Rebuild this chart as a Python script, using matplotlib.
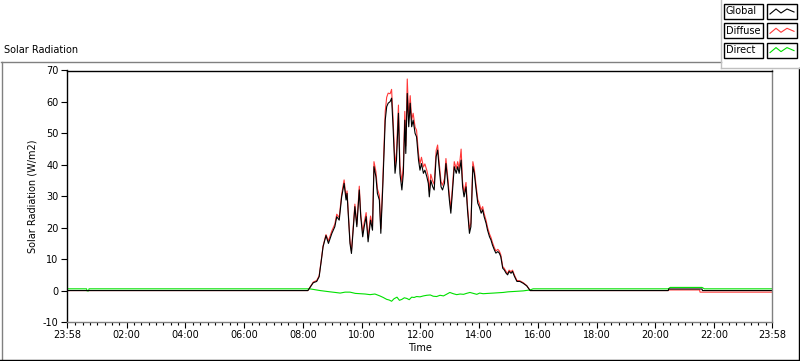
import numpy as np
import matplotlib.pyplot as plt
from matplotlib.lines import Line2D
from matplotlib.patches import Rectangle

plt.rcParams['font.family'] = ['DejaVu Sans']
plt.rcParams['axes.unicode_minus'] = False

# time in minutes from midnight (-2 = 23:58 the day before)
day_min = [490, 501, 508, 513, 518, 521, 527, 532, 539, 545, 549, 554, 559, 564, 568, 570,
           576, 579, 583, 586, 590, 595, 598, 602, 605, 609, 613, 618, 622, 625, 629, 632,
           636, 639, 643, 645, 648, 651, 654, 658, 661, 664, 668, 671, 675, 678, 682, 685,
           688, 690, 693, 696, 699, 702, 705, 709, 712, 716, 719, 722, 726, 729, 733, 736,
           738, 741, 745, 748, 752, 755, 758, 762, 765, 769, 772, 776, 779, 782, 786, 789,
           793, 796, 799, 803, 806, 809, 813, 816, 820, 823, 827, 830, 833, 837, 840, 844,
           847, 850, 854, 857, 861, 864, 867, 871, 874, 878, 881, 884, 888, 891, 895, 898,
           901, 905, 908, 912, 917, 923, 930, 937, 944]
global_day = [0, 2.5, 2.9, 4.4, 10.2, 13.9, 17.5, 15, 18.2, 20.3, 23.5, 22.4, 29.8, 34.1, 28.8, 30.9,
              15, 11.8, 20.3, 26.7, 20.3, 32, 23.5, 17.1, 20.3, 23.5, 15.5, 22.4, 19.2, 39.4, 36.2, 30.9,
              28.8, 18.2, 33, 41.5, 54.2, 58.5, 59.6, 60.1, 61.2, 52.1, 37.3, 41.5, 56.4, 37.3, 32, 37.3,
              54.2, 43.6, 62.7, 52.1, 59.6, 52.1, 54.2, 50, 48.9, 41.5, 38.3, 40.4, 37.3, 38.3, 36.2, 34.1,
              29.8, 35.1, 33, 32, 42.6, 44.7, 39.4, 33, 32, 34.1, 40.4, 34.1, 28.8, 24.6, 33, 39.4,
              37.3, 39.4, 37.3, 41.5, 33, 29.8, 33, 25.7, 18.2, 20.3, 39.4, 37.3, 33, 27.8, 26.7, 24.6,
              25.7, 23.5, 21.4, 19.2, 17.1, 16.1, 14.5, 12.9, 11.9, 12.4, 11.9, 10.8, 7.1, 6.6, 5.5, 5,
              6.1, 5.5, 6.1, 4.5, 2.9, 2.9, 2.3, 1.5, 0]
diffuse_day = [0, 2.7, 3.2, 4.7, 10.5, 14.2, 17.8, 15.8, 19, 21.1, 24.3, 23.2, 30.6, 35.2, 29.6, 31.7,
               15.8, 12.6, 21.1, 27.5, 21.1, 33.2, 24.3, 18.4, 21.6, 24.8, 16.8, 23.7, 20.5, 41, 37.8, 32.4,
               30.3, 19.7, 35, 43.5, 57, 61.5, 62.8, 62.6, 64, 54.6, 39.8, 44, 59, 39.8, 34.5, 39.8,
               57, 46, 67.3, 55, 62, 54.3, 56.4, 52, 51, 43.5, 40.3, 42.4, 39.3, 40.3, 38.2, 36.1,
               31.6, 37, 34.8, 33.8, 44.5, 46.3, 41, 34.6, 33.5, 35.6, 42, 35.6, 30.3, 26, 34.5, 41,
               38.8, 41, 38.8, 45, 34.5, 31.2, 34.4, 27, 19.5, 21.5, 41, 38.6, 34.2, 29, 27.8, 25.6,
               26.7, 24.5, 22.3, 20.1, 18, 16.9, 15.3, 13.6, 12.6, 13.1, 12.6, 11.4, 7.6, 7.1, 6, 5.4,
               6.5, 6, 6.5, 4.9, 3.2, 3.1, 2.5, 1.6, 0]

global_eve_min = [1226, 1227, 1295, 1296, 1438]
global_eve = [0, 0.5, 0.5, 0, 0]
diffuse_eve_min = [1226, 1227, 1290, 1291, 1438]
diffuse_eve = [0, 0.2, 0.2, -0.5, -0.5]

direct_min = [-2, 38, 39, 42, 43, 494, 515, 535, 546, 556, 566, 576, 587, 597, 607, 617, 627, 637,
              644, 651, 656, 661, 666, 672, 677, 682, 687, 692, 697, 702, 707, 712, 719, 726, 733,
              740, 746, 753, 760, 767, 773, 780, 787, 794, 801, 808, 814, 821, 828, 835, 841, 848,
              858, 869, 879, 889, 899, 910, 920, 930, 944, 950, 1226, 1230, 1295, 1300, 1438]
direct = [0.55, 0.55, -0.1, -0.1, 0.55, 0.55, 0, -0.4, -0.6, -0.8, -0.5, -0.5, -0.9, -1.0, -1.1, -1.3, -1.1, -1.7,
          -2.2, -2.8, -3.0, -3.4, -2.6, -2.1, -3.1, -2.8, -2.3, -2.5, -2.9, -2.1, -2.2, -1.9, -2.0, -1.7, -1.5,
          -1.4, -1.8, -1.9, -1.5, -1.7, -1.2, -0.6, -1.0, -1.3, -1.1, -1.2, -0.9, -0.6, -0.9, -1.2, -0.8, -1.0,
          -0.9, -0.8, -0.7, -0.6, -0.4, -0.3, -0.2, -0.1, 0.2, 0.55, 0.55, 1.0, 1.0, 0.55, 0.55]

major_ticks = [-2, 120, 240, 360, 480, 600, 720, 840, 960, 1080, 1200, 1320, 1438]
major_labels = ['23:58', '02:00', '04:00', '06:00', '08:00', '10:00', '12:00',
                '14:00', '16:00', '18:00', '20:00', '22:00', '23:58']

global_min = [-2] + day_min + global_eve_min
global_val = [0] + global_day + global_eve
diffuse_min = [-2] + day_min + diffuse_eve_min
diffuse_val = [0] + diffuse_day + diffuse_eve

W, H = 800, 361
fig = plt.figure(figsize=(W / 100, H / 100), dpi=100)
fig.patch.set_facecolor('white')

def px(x, y):
    return x / W, 1 - y / H

ax = fig.add_axes([67 / W, 1 - 322 / H, (772 - 67) / W, (322 - 70.5) / H])
ax.plot(diffuse_min, diffuse_val, color='#ff3838', lw=0.8)
ax.plot(direct_min, direct, color='#00e000', lw=0.8)
ax.plot(global_min, global_val, color='black', lw=0.8)

ax.set_xlim(-2, 1438)
ax.set_ylim(-10, 70)
ax.set_yticks(np.arange(-10, 71, 10))
ax.set_xticks(major_ticks)
ax.set_xticklabels(major_labels)
ax.set_xticks([m for m in range(0, 1438, 15) if m % 120 != 0], minor=True)
ax.tick_params(axis='both', which='major', direction='out', length=4, width=0.8,
               labelsize=7, pad=2)
ax.tick_params(axis='x', which='minor', direction='out', length=2.5, width=0.8)
ax.spines['top'].set_color('black')
ax.spines['left'].set_color('black')
ax.spines['bottom'].set_color('#808080')
ax.spines['right'].set_color('#808080')
for s in ax.spines.values():
    s.set_linewidth(1)
ax.set_xlabel('Time', fontsize=7, labelpad=2)
ax.set_ylabel('Solar Radiation (W/m2)', fontsize=7, labelpad=4)

# outer panel frame
def hline(x0, x1, y, c):
    a, b = px(x0, y)
    c2, _ = px(x1, y)
    fig.add_artist(Line2D([a, c2], [b, b], color=c, lw=1, transform=fig.transFigure))

def vline(x, y0, y1, c):
    a, b = px(x, y0)
    _, d = px(x, y1)
    fig.add_artist(Line2D([a, a], [b, d], color=c, lw=1, transform=fig.transFigure))

hline(1, 721, 61.5, '#808080')
vline(1.5, 61.5, 359, '#808080')
hline(0, 799, 359.5, 'black')
vline(798.5, 68, 360, 'black')
vline(721, 0, 68, '#c0c0c0')
hline(721, 799, 68, '#c0c0c0')

fig.text(4 / W, 1 - 50 / H, 'Solar Radiation', fontsize=7, va='center', ha='left')

# legend boxes
names = ['Global', 'Diffuse', 'Direct']
colors = ['black', '#ff3838', '#00e000']
for i, (n, c) in enumerate(zip(names, colors)):
    top = 4 + i * 19.3
    x0, y0 = px(724, top + 15)
    fig.add_artist(Rectangle((x0, y0), 39 / W, 15 / H, fill=False, ec='black', lw=1,
                             transform=fig.transFigure))
    fig.text(726 / W, 1 - (top + 7.5) / H, n, fontsize=7, va='center', ha='left')
    x1, _ = px(767, 0)
    fig.add_artist(Rectangle((x1, y0), 30 / W, 15 / H, fill=False, ec='black', lw=1,
                             transform=fig.transFigure))
    zx = [770, 776, 781, 787, 794]
    zy = [top + 10, top + 5, top + 9, top + 5, top + 8]
    fig.add_artist(Line2D([v / W for v in zx], [1 - v / H for v in zy], color=c, lw=0.8,
                          transform=fig.transFigure))

fig.savefig('out.png', dpi=100)
